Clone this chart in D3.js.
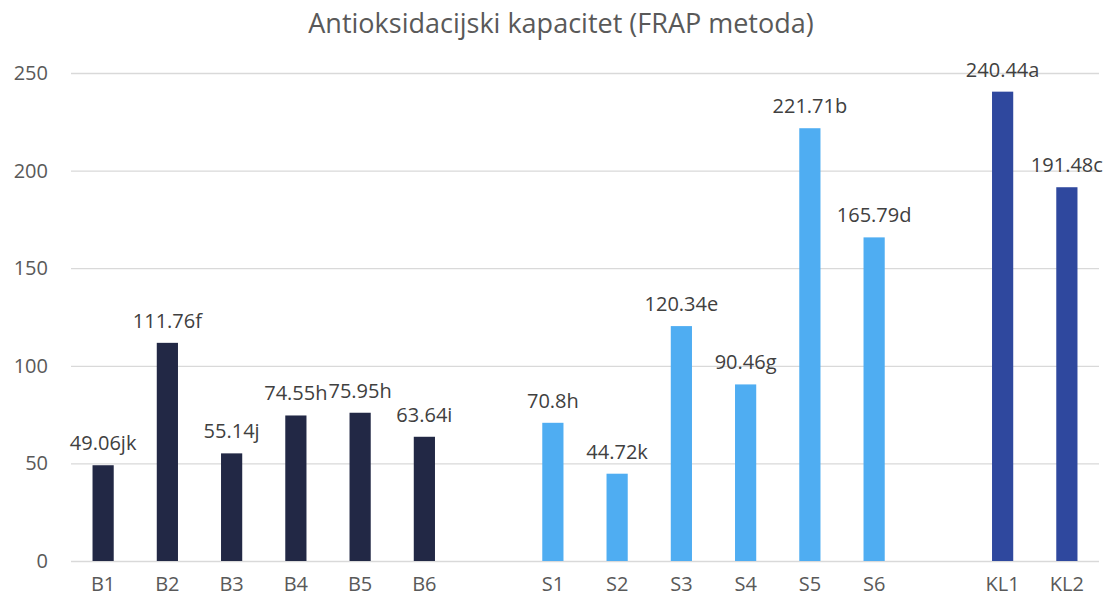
<!DOCTYPE html>
<html>
<head>
<meta charset="utf-8">
<title>Antioksidacijski kapacitet</title>
<style>
  body { margin: 0; background: #fff; }
  svg text { font-family: "Open Sans", "Noto Sans", sans-serif; }
</style>
</head>
<body>
<div id="chart"></div>
<script src="https://d3js.org/d3.v7.min.js"></script>
<script>

// samples, in drawing order; "gap" slots stay empty
var categories = ["B1","B2","B3","B4","B5","B6","gap1","S1","S2","S3","S4","S5","S6","gap2","KL1","KL2"];
var values  = [49.06,111.76,55.14,74.55,75.95,63.64,null,70.8,44.72,120.34,90.46,221.71,165.79,null,240.44,191.48];
var letters = ["jk","f","j","h","h","i","","h","k","e","g","b","d","","a","c"];
var groups  = ["B","B","B","B","B","B","","S","S","S","S","S","S","","KL","KL"];
var yTicks  = [0,50,100,150,200,250];

var groupColor = { B: "#222845", S: "#4FADF2", KL: "#2F489E" };

var w = 1113, h = 604;
var mLeft = 71, mRight = 1099, mTop = 73, mBottom = 561;

var svg = d3.select("#chart").append("svg")
    .attr("width", w).attr("height", h);

var x = d3.scaleBand().domain(categories).range([mLeft, mRight]).padding(0);
var y = d3.scaleLinear().domain([0, 250]).range([mBottom, mTop]);
var barW = x.bandwidth() * 0.33;

// title
svg.append("text")
    .attr("x", 561).attr("y", 33)
    .attr("text-anchor", "middle")
    .style("font-size", "27px")
    .attr("fill", "#595959")
    .text("Antioksidacijski kapacitet (FRAP metoda)");

// gridlines + y labels
var yAxis = svg.append("g")
    .attr("transform", "translate(" + mLeft + ",0)")
    .call(d3.axisLeft(y).tickValues(yTicks).tickSize(-(mRight - mLeft)).tickPadding(23));
yAxis.select(".domain").remove();
yAxis.selectAll(".tick line").attr("stroke", "#d9d9d9").attr("stroke-width", 1.3);
yAxis.selectAll(".tick text")
    .attr("fill", "#595959")
    .style("font-size", "20px");

// bars
var data = categories.map(function(c, i) {
    return { cat: c, val: values[i], letter: letters[i], grp: groups[i] };
}).filter(function(d) { return d.val != null; });

svg.selectAll("rect.bar")
    .data(data)
    .enter().append("rect")
    .attr("class", "bar")
    .attr("x", function(d) { return x(d.cat) + x.bandwidth() / 2 - barW / 2; })
    .attr("y", function(d) { return y(d.val); })
    .attr("width", barW)
    .attr("height", function(d) { return y(0) - y(d.val); })
    .attr("fill", function(d) { return groupColor[d.grp]; });

// value labels
svg.selectAll("text.lbl")
    .data(data)
    .enter().append("text")
    .attr("class", "lbl")
    .attr("x", function(d) { return x(d.cat) + x.bandwidth() / 2; })
    .attr("y", function(d) { return y(d.val) - 15; })
    .attr("text-anchor", "middle")
    .attr("fill", "#404040")
    .style("font-size", "20px")
    .text(function(d) { return d.val + d.letter; });

// x labels
var xAxis = svg.append("g")
    .attr("transform", "translate(0," + mBottom + ")")
    .call(d3.axisBottom(x).tickSize(0).tickPadding(16)
        .tickFormat(function(c) { return c.indexOf("gap") === 0 ? "" : c; }));
xAxis.select(".domain").remove();
xAxis.selectAll(".tick text")
    .attr("fill", "#595959")
    .style("font-size", "20px");

</script>
</body>
</html>
